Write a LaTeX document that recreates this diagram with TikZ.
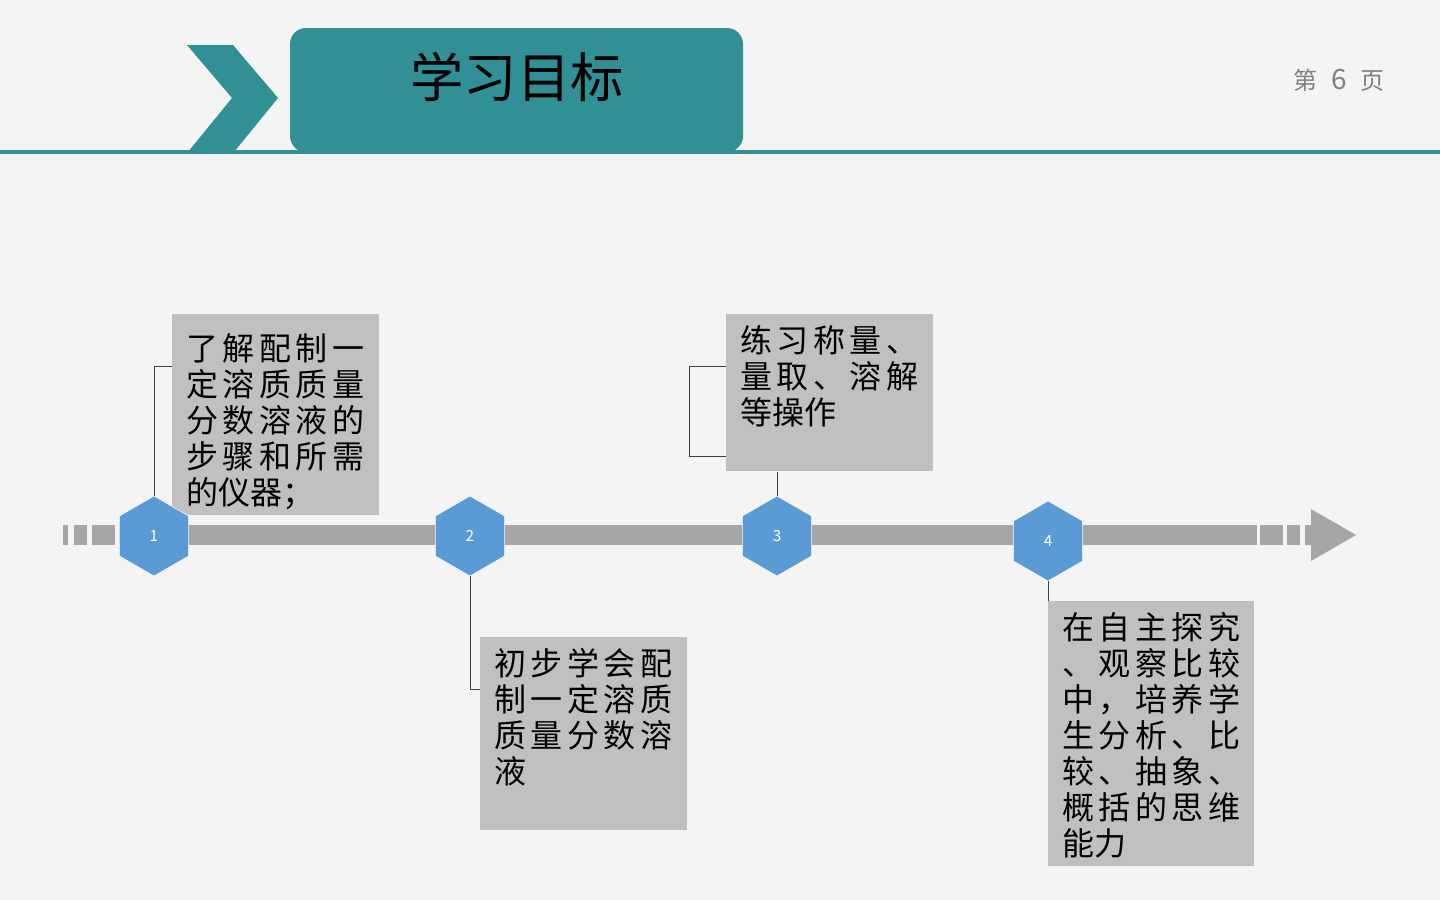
\documentclass[tikz,border=0pt]{standalone}
\usepackage{fontspec}
\setmainfont{Noto Sans CJK SC}
\newfontfamily\spacedcjk[LetterSpace=14]{Noto Sans CJK SC}
\usetikzlibrary{shapes.geometric}
\definecolor{headTeal}{RGB}{49,143,150}
\definecolor{pageBg}{RGB}{244,244,244}
\definecolor{barGray}{RGB}{166,166,166}
\definecolor{boxGray}{RGB}{192,192,192}
\definecolor{hexBlue}{RGB}{91,155,213}
\definecolor{linkGray}{RGB}{64,64,64}
\definecolor{pageGray}{RGB}{128,128,128}
\newcommand\px{0.75pt}
\tikzset{
  goalbox/.style={fill=boxGray, inner sep=0pt, anchor=north west},
  goaltext/.style={anchor=north west, inner sep=0pt, align=left,
    font=\spacedcjk\fontsize{24}{27}\selectfont},
  stephex/.style={regular polygon, regular polygon sides=6, shape border rotate=30,
    fill=hexBlue, draw=white, line width=0.4pt, minimum size=80*\px, inner sep=0pt,
    text=white, font=\fontsize{11.5}{13}\selectfont},
  link/.style={draw=linkGray, line width=0.75pt},
}
\begin{document}
\begin{tikzpicture}[x=0.75pt,y=-0.75pt]
\useasboundingbox (0,0) rectangle (1440,900);
\fill[pageBg] (0,0) rectangle (1440,900);
% header
\fill[headTeal] (0,150) rectangle (1440,154);
\fill[headTeal] (187,45) -- (233,45) -- (278,98) -- (234,152) -- (188,152) -- (232,98) -- cycle;
\node[fill=headTeal, rounded corners=16*\px, minimum width=453*\px, minimum height=124*\px,
  inner sep=0pt] (titlebar) at (516.5,90) {};
\node[font=\fontsize{40}{44}\selectfont, inner sep=0pt] (title) at (517,77) {学习目标};
\node[font=\fontsize{18}{20}\selectfont, text=pageGray, inner sep=0pt] (page) at (1339,80)
  {第\hspace{10pt}{\fontsize{21}{24}\selectfont 6}\hspace{10pt}页};
% timeline
\fill[barGray] (63,525) rectangle (68,545);
\fill[barGray] (74,525) rectangle (87,545);
\fill[barGray] (92,525) rectangle (115,545);
\fill[barGray] (119,525) rectangle (1257,545);
\fill[barGray] (1260,525) rectangle (1283,545);
\fill[barGray] (1287,525) rectangle (1300,545);
\fill[barGray] (1305,525) -- (1311,525) -- (1311,509) -- (1356,535) -- (1311,561)
  -- (1311,545) -- (1305,545) -- cycle;
% goal boxes
\node[goalbox, minimum width=207*\px, minimum height=201*\px] (b1) at (172,314) {};
\node[goaltext] (t1) at (186,333) {了解配制一\\定溶质质量\\分数溶液的\\步骤和所需\\\normalfont 的仪器；};
\node[goalbox, minimum width=207*\px, minimum height=193*\px] (b2) at (480,637) {};
\node[goaltext] (t2) at (494,648) {初步学会配\\制一定溶质\\质量分数溶\\\normalfont 液};
\node[goalbox, minimum width=207*\px, minimum height=157*\px] (b3) at (726,314) {};
\node[goaltext] (t3) at (740,325) {练习称量、\\量取、溶解\\\normalfont 等操作};
\node[goalbox, minimum width=206*\px, minimum height=265*\px] (b4) at (1048,601) {};
\node[goaltext] (t4) at (1062,612) {在自主探究\\、观察比较\\中，培养学\\生分析、比\\较、抽象、\\概括的思维\\\normalfont 能力};
% connectors
\coordinate (c1) at (172,366);
\coordinate (c2) at (480,689);
\coordinate (c3a) at (726,366);
\coordinate (c3b) at (726,456);
\node[stephex] (h1) at (154,536) {1};
\node[stephex] (h2) at (470,536) {2};
\node[stephex] (h3) at (777,536) {3};
\node[stephex] (h4) at (1048,541) {4};
\draw[link] (h1.north) |- (c1);
\draw[link] (h2.south) |- (c2);
\draw[link] (h3.north) -- (h3.north |- b3.south);
\draw[link] (c3a) -- ++(-37,0) |- (c3b);
\draw[link] (h4.south) -- (h4.south |- b4.north);
\end{tikzpicture}
\end{document}
